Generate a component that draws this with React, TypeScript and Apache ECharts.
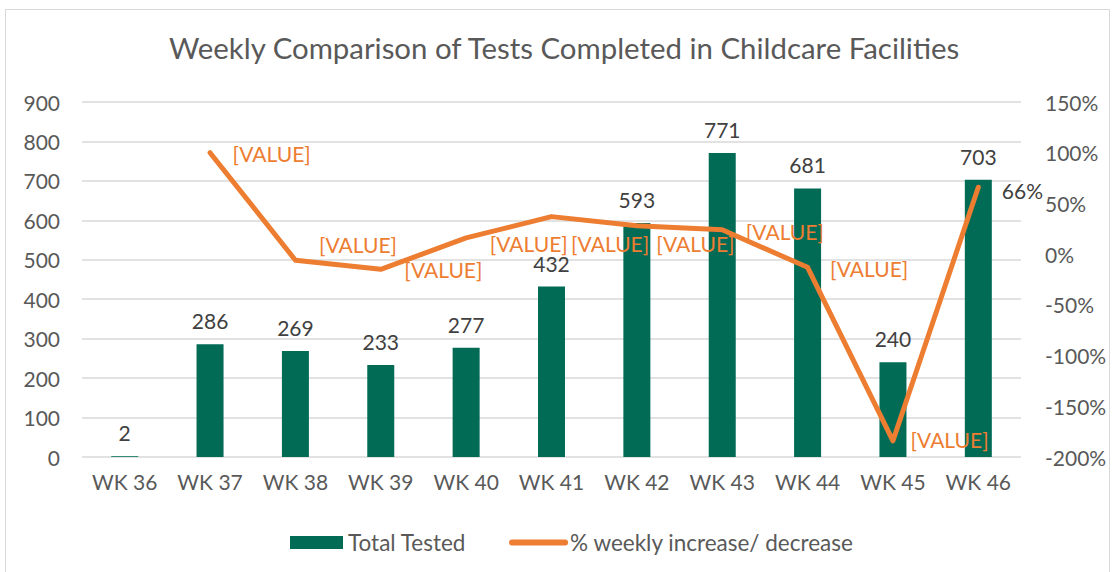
import React, { useEffect, useRef } from "react";
import * as echarts from "echarts";

const categories = ["WK 36", "WK 37", "WK 38", "WK 39", "WK 40", "WK 41", "WK 42", "WK 43", "WK 44", "WK 45", "WK 46"];
const totalTested = [2, 286, 269, 233, 277, 432, 593, 771, 681, 240, 703];
const weeklyChange = [null, 100, -6, -15, 16, 37, 28, 24, -13, -184, 66];
const lineLabels = ["", "[VALUE]", "[VALUE]", "[VALUE]", "[VALUE]", "[VALUE]", "[VALUE]", "[VALUE]", "[VALUE]", "[VALUE]", "66%"];
const lineLabelShift: [number, number][] = [
  [0, 0], [0, 1], [1, -16], [1, 0], [1, 6], [-3, 27], [-3, 18], [1, 2], [0, 1], [-5, -1], [1, 3],
];

const FONT = "Lato, 'Open Sans', sans-serif";
const GREEN = "#016B56";
const ORANGE = "#ED7D31";

export default function App() {
  const ref = useRef<HTMLDivElement>(null);
  useEffect(() => {
    if (!ref.current) return;
    const chart = echarts.init(ref.current, null, { renderer: "svg" });
    chart.setOption({
      animation: false,
      backgroundColor: "#ffffff",
      textStyle: { fontFamily: FONT },
      title: {
        text: "Weekly Comparison of Tests Completed in Childcare Facilities",
        left: 164,
        top: 28,
        textStyle: { fontFamily: FONT, fontSize: 29.4, fontWeight: "normal", color: "#595959" },
      },
      graphic: [
        { type: "rect", shape: { x: 5.5, y: 9.5, width: 1104, height: 564 }, style: { fill: "none", stroke: "#d9d9d9", lineWidth: 1 }, silent: true },
      ],
      legend: {
        top: 526,
        left: 285,
        itemGap: 43,
        itemWidth: 53,
        itemHeight: 13,
        textStyle: { fontFamily: FONT, fontSize: 22.5, color: "#595959" },
        data: [
          { name: "Total Tested", icon: "rect" },
          { name: "% weekly increase/ decrease", itemStyle: { opacity: 0 }, lineStyle: { width: 6, cap: "round" } },
        ],
      },
      grid: { left: 82, right: 91, top: 102, bottom: 115 },
      xAxis: {
        type: "category",
        data: categories,
        axisLine: { show: false },
        axisTick: { show: false },
        axisLabel: { fontFamily: FONT, fontSize: 21, color: "#595959", margin: 14 },
      },
      yAxis: [
        {
          type: "value",
          min: 0,
          max: 900,
          interval: 100,
          axisLine: { show: false },
          axisTick: { show: false },
          axisLabel: { fontFamily: FONT, fontSize: 21, color: "#595959", margin: 22 },
          splitLine: { lineStyle: { color: "#d9d9d9", width: 1.5 } },
        },
        {
          type: "value",
          min: -200,
          max: 150,
          interval: 50,
          axisLine: { show: false },
          axisTick: { show: false },
          axisLabel: { fontFamily: FONT, fontSize: 21, color: "#595959", margin: 24, formatter: (v: number) => v + "%" },
          splitLine: { show: false },
        },
      ],
      series: [
        {
          name: "Total Tested",
          type: "bar",
          data: totalTested,
          barWidth: 27,
          itemStyle: { color: GREEN },
          label: { show: true, position: "top", distance: 13, fontFamily: FONT, fontSize: 21, color: "#404040" },
        },
        {
          name: "% weekly increase/ decrease",
          type: "line",
          yAxisIndex: 1,
          data: weeklyChange.map((v, i) => ({
            value: v,
            label: {
              offset: lineLabelShift[i],
              color: i === weeklyChange.length - 1 ? "#404040" : ORANGE,
            },
          })),
          symbol: "circle",
          symbolSize: 1,
          showSymbol: true,
          lineStyle: { color: ORANGE, width: 5, cap: "round", join: "round" },
          itemStyle: { color: ORANGE },
          label: {
            show: true,
            position: "right",
            distance: 22,
            fontFamily: FONT,
            fontSize: 21,
            color: ORANGE,
            formatter: (p: any) => lineLabels[p.dataIndex],
          },
        },
      ],
    });
    return () => chart.dispose();
  }, []);
  return <div ref={ref} style={{ position: "fixed", left: 0, top: 0, width: 1112, height: 572 }} />;
}
